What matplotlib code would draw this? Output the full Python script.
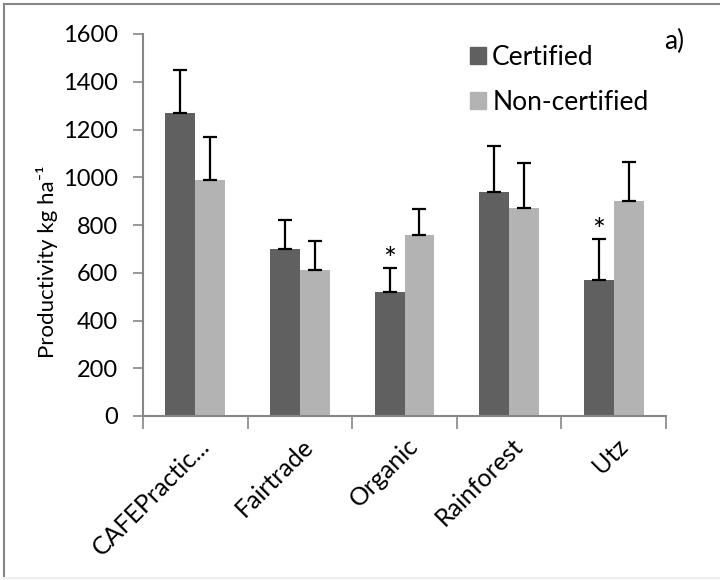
import numpy as np
import matplotlib.pyplot as plt
import matplotlib.transforms as mtransforms
from matplotlib.patches import Rectangle
from matplotlib.lines import Line2D

# data
categories = ["CAFEPractic...", "Fairtrade", "Organic", "Rainforest", "Utz"]
certified = [1270, 700, 520, 940, 570]
certified_err = [180, 120, 100, 190, 170]
non_certified = [990, 610, 760, 870, 900]
non_certified_err = [180, 125, 105, 190, 165]
significant = [False, False, True, False, True]

dark = "#606060"
light = "#b3b3b3"
axis_gray = "#868686"

plt.rcParams['font.family'] = ['Lato', 'DejaVu Sans']

fig = plt.figure(figsize=(7.2, 5.8), dpi=100)
ax = fig.add_axes([143 / 720, 1 - 416 / 580, (666 - 143) / 720, (416 - 34) / 580])

x = np.arange(len(categories))
w = 1 / 3.5
err_style = dict(ecolor="black", elinewidth=1.6, capsize=5, capthick=1.6)
ax.bar(x - w / 2, certified, w, color=dark, label="Certified",
       yerr=[np.zeros(len(x)), certified_err], error_kw=err_style, zorder=2)
ax.bar(x + w / 2, non_certified, w, color=light, label="Non-certified",
       yerr=[np.zeros(len(x)), non_certified_err], error_kw=err_style, zorder=2)

# significance stars
for i, sig in enumerate(significant):
    if sig:
        ax.text(x[i] - w / 2, certified[i] + certified_err[i] - 25, "*",
                ha="center", va="bottom", fontsize=22)

ax.set_xlim(-0.5, len(categories) - 0.5)
ax.set_ylim(0, 1600)
ax.set_yticks(np.arange(0, 1601, 200))
ax.tick_params(axis="y", labelsize=17, length=7, color=axis_gray, width=1.2, pad=11)

# x ticks at category boundaries, labels at centres
ax.set_xticks(np.arange(-0.5, len(categories)), minor=False)
ax.set_xticklabels([])
ax.set_xticks(x, minor=True)
ax.set_xticklabels(categories, minor=True, rotation=45, ha="right",
                   rotation_mode="anchor", fontsize=18)
ax.tick_params(axis="x", which="major", length=9, color=axis_gray, width=1.2)
ax.tick_params(axis="x", which="minor", length=0, pad=13)
shift = mtransforms.ScaledTranslation(2 / 100, 0, fig.dpi_scale_trans)
for lab in ax.get_xticklabels(minor=True):
    lab.set_transform(lab.get_transform() + shift)

for side in ["top", "right"]:
    ax.spines[side].set_visible(False)
for side in ["left", "bottom"]:
    ax.spines[side].set_color(axis_gray)
    ax.spines[side].set_linewidth(1.5)

ax.set_ylabel("Productivity kg ha\u207b\u00b9", fontsize=16)
ax.yaxis.set_label_coords(-0.163, 0.405)

handles = [Rectangle((0, 0), 1, 1, color=dark), Rectangle((0, 0), 1, 1, color=light)]
fig.legend(handles, ["Certified", "Non-certified"], loc="upper left",
           bbox_to_anchor=(446 / 720, 1 - 21 / 580), frameon=False, fontsize=19,
           handlelength=0.6, handleheight=0.6, handletextpad=0.25, labelspacing=0.75)

fig.text(664 / 720, 1 - 41 / 580, "a)", fontsize=19, va="center", ha="left")

# outer chart frame (cropped on the right)
fig.add_artist(Line2D([4 / 720, 4 / 720], [1 - 4 / 580, 2 / 580], transform=fig.transFigure,
                      color=axis_gray, linewidth=1.5))
fig.add_artist(Line2D([4 / 720, 1], [1 - 4 / 580, 1 - 4 / 580], transform=fig.transFigure,
                      color=axis_gray, linewidth=1.5))
fig.add_artist(Line2D([4 / 720, 1], [2 / 580, 2 / 580], transform=fig.transFigure,
                      color="#eeeeee", linewidth=1.5))

fig.savefig("out.png", dpi=100)
